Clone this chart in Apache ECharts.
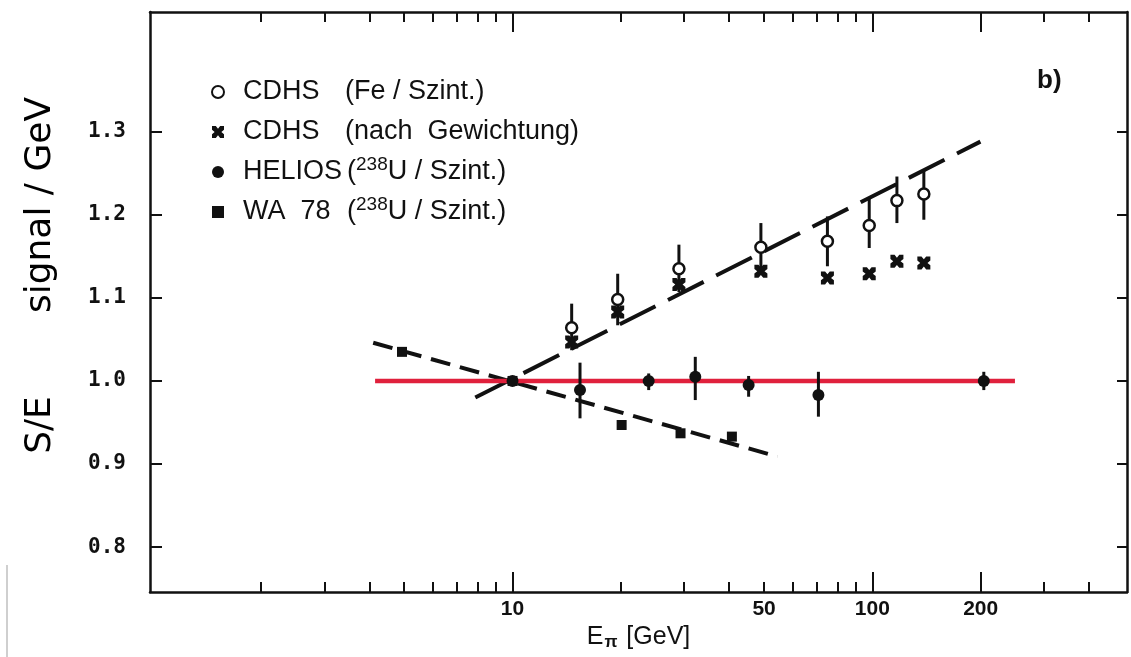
<!DOCTYPE html>
<html><head><meta charset="utf-8">
<script src="https://cdn.jsdelivr.net/npm/echarts@6/dist/echarts.min.js"></script>
<style>html,body{margin:0;padding:0;background:#fff}#c{width:1131px;height:657px}</style>
</head><body><div id="c"></div>
<script>
// ---- tick labels / ticks ----
const xMinorTicks = [2,3,4,5,6,7,8,9,20,30,40,50,60,70,80,90,300,400];
const xMajorTicks = [10,100,200];
const xLabels = [10,50,100,200];
const yTicks = [0.8,0.9,1.0,1.1,1.2,1.3];

// ---- data (E in GeV, S/E) ----
const cdhsFe = [[14.6,1.064],[19.6,1.098],[29,1.135],[49,1.161],[75,1.168],[98,1.187],[117,1.217],[139,1.225]];
const cdhsFeErr = [[14.6,1.037,1.093],[19.6,1.067,1.129],[29,1.107,1.164],[49,1.134,1.190],[75,1.138,1.198],[98,1.160,1.220],[117,1.190,1.246],[139,1.194,1.254]];
const cdhsWeighted = [[14.6,1.047],[19.6,1.083],[29,1.116],[49,1.132],[75,1.124],[98,1.129],[117,1.144],[139,1.142]];
const helios = [[10,1.0],[15.4,0.989],[23.9,1.0],[32.2,1.005],[45.3,0.995],[70.8,0.983],[204,1.0]];
const heliosErr = [[15.4,0.955,1.022],[23.9,0.989,1.009],[32.2,0.977,1.029],[45.3,0.981,1.006],[70.8,0.957,1.011],[204,0.989,1.011]];
const wa78 = [[4.93,1.035],[10,1.0],[20.1,0.947],[29.3,0.937],[40.7,0.933]];
const fitCdhs = [[7.88,0.98],[199.6,1.288]];
const fitWa78 = [[4.1,1.046],[54.5,0.909]];
const reference = [[4.15,1.0],[249,1.0]];

const INK = '#111111';
const crossPath = 'path://M0,0 L3.2,0 L5,2.2 L6.8,0 L10,0 L10,3.2 L7.8,5 L10,6.8 L10,10 L6.8,10 L5,7.8 L3.2,10 L0,10 L0,6.8 L2.2,5 L0,3.2 Z';
const squarePath = 'path://M0,0 L10,0 L10,10 L0,10 Z';

const chart = echarts.init(document.getElementById('c'), null, {renderer:'canvas'});

function errRender(params, api){
  const x = api.value(0);
  const p1 = api.coord([x, api.value(1)]);
  const p2 = api.coord([x, api.value(2)]);
  return {type:'line', shape:{x1:p1[0],y1:p1[1],x2:p2[0],y2:p2[1]}, style:{stroke:INK, lineWidth:3}};
}

const xBase = {type:'log', logBase:10, min:0.983, max:510, gridIndex:0, splitLine:{show:false}, axisPointer:{show:false}};
const tickLine = {color:INK, width:2};

const option = {
  backgroundColor:'#fff',
  animation:false,
  grid:{left:150, right:4, top:12, bottom:65, containLabel:false},
  xAxis:[
    Object.assign({}, xBase, {position:'bottom',
      axisLine:{show:true, onZero:false, lineStyle:{color:INK, width:2.5}},
      axisTick:{show:true, inside:true, length:10, lineStyle:tickLine, customValues:xMinorTicks},
      axisLabel:{show:true, customValues:xLabels, margin:7, color:INK, fontFamily:'Liberation Sans Narrow, Liberation Sans', fontWeight:'bold', fontSize:21, formatter:v=>String(Math.round(v))},
      name:'E{sub|π} [GeV]', nameLocation:'middle', nameGap:28,
      nameTextStyle:{color:INK, fontFamily:'Liberation Sans', fontSize:25, verticalAlign:'top',
        rich:{sub:{fontSize:17, fontFamily:'Liberation Sans', fontWeight:'bold', verticalAlign:'bottom', color:INK, padding:[10,2,0,1]}}}
    }),
    Object.assign({}, xBase, {position:'bottom',
      axisLine:{show:false},
      axisTick:{show:true, inside:true, length:20, lineStyle:tickLine, customValues:xMajorTicks},
      axisLabel:{show:false}
    }),
    Object.assign({}, xBase, {position:'top',
      axisLine:{show:true, onZero:false, lineStyle:{color:INK, width:2.5}},
      axisTick:{show:true, inside:true, length:10, lineStyle:tickLine, customValues:xMinorTicks},
      axisLabel:{show:false}
    }),
    Object.assign({}, xBase, {position:'top',
      axisLine:{show:false},
      axisTick:{show:true, inside:true, length:20, lineStyle:tickLine, customValues:xMajorTicks},
      axisLabel:{show:false}
    })
  ],
  yAxis:[
    {type:'value', min:0.746, max:1.444, position:'left', splitLine:{show:false},
      axisLine:{show:true, onZero:false, lineStyle:{color:INK, width:2.5}},
      axisTick:{show:true, inside:true, length:12, lineStyle:tickLine, customValues:yTicks},
      axisLabel:{show:true, customValues:yTicks, margin:24, color:INK, fontFamily:'DejaVu Sans Mono', fontWeight:'bold', fontSize:21, formatter:v=>v.toFixed(1)}
    },
    {type:'value', min:0.746, max:1.444, position:'right', splitLine:{show:false},
      axisLine:{show:true, onZero:false, lineStyle:{color:INK, width:2.5}},
      axisTick:{show:true, inside:true, length:10, lineStyle:tickLine, customValues:yTicks},
      axisLabel:{show:false}
    }
  ],
  legend:{
    orient:'vertical', left:206, top:70, itemWidth:40, itemHeight:12, itemGap:6,
    selectedMode:false,
    data:['CDHS (Fe/Szint.)','CDHS (nach Gewichtung)','HELIOS (238U/Szint.)','WA 78 (238U/Szint.)'],
    textStyle:{color:INK, fontFamily:'Liberation Sans', fontSize:27, lineHeight:34,
      rich:{
        a:{width:102, fontSize:27, lineHeight:34, fontFamily:'Liberation Sans', color:INK},
        c:{width:104, fontSize:27, lineHeight:34, fontFamily:'Liberation Sans', color:INK},
        b:{fontSize:27, lineHeight:34, fontFamily:'Liberation Sans', color:INK},
        s:{fontSize:19, lineHeight:20, verticalAlign:'top', fontFamily:'Liberation Sans', color:INK}
      }},
    formatter:function(name){
      if(name==='CDHS (Fe/Szint.)') return '{a|CDHS}{b|(Fe / Szint.)}';
      if(name==='CDHS (nach Gewichtung)') return '{a|CDHS}{b|(nach  Gewichtung)}';
      if(name==='HELIOS (238U/Szint.)') return '{c|HELIOS}{b|(}{s|238}{b|U / Szint.)}';
      return '{c|WA  78}{b|(}{s|238}{b|U / Szint.)}';
    }
  },
  graphic:[
    {type:'text', left:1037, top:68, style:{text:'b)', fontFamily:'Liberation Sans', fontWeight:'bold', fontSize:26, fill:INK}},
    {type:'text', x:41, y:205, rotation:Math.PI/2, style:{text:'signal / GeV', fontFamily:'DejaVu Sans', fontSize:36, fill:'#000', align:'center', verticalAlign:'middle'}},
    {type:'text', x:41, y:425, rotation:Math.PI/2, style:{text:'S/E', fontFamily:'DejaVu Sans', fontSize:36, fill:'#000', align:'center', verticalAlign:'middle'}},
    {type:'line', shape:{x1:7, y1:565, x2:7, y2:657}, style:{stroke:'#cfcfcf', lineWidth:2}}
  ],
  series:[
    {name:'fitCdhs', type:'line', data:fitCdhs, symbol:'none', z:2, silent:true,
      lineStyle:{color:INK, width:4, type:[40,14]}},
    {name:'fitWa78', type:'line', data:fitWa78, symbol:'none', z:2, silent:true,
      lineStyle:{color:INK, width:4, type:[20,10]}},
    {name:'reference', type:'line', data:reference, symbol:'none', z:3, silent:true,
      lineStyle:{color:'#e0203c', width:4.5}},
    {name:'cdhsErr', type:'custom', renderItem:errRender, data:cdhsFeErr, encode:{x:0, y:[1,2]}, z:4, silent:true},
    {name:'heliosErr', type:'custom', renderItem:errRender, data:heliosErr, encode:{x:0, y:[1,2]}, z:4, silent:true},
    {name:'CDHS (nach Gewichtung)', type:'scatter', data:cdhsWeighted, symbol:crossPath, symbolSize:13, symbolKeepAspect:true, z:5,
      itemStyle:{color:INK, opacity:1}},
    {name:'CDHS (Fe/Szint.)', type:'scatter', data:cdhsFe, symbol:'circle', symbolSize:11, z:6,
      itemStyle:{color:'#fff', borderColor:INK, borderWidth:2.5, opacity:1}},
    {name:'HELIOS (238U/Szint.)', type:'scatter', data:helios, symbol:'circle', symbolSize:12, z:5,
      itemStyle:{color:INK, opacity:1}},
    {name:'WA 78 (238U/Szint.)', type:'scatter', data:wa78, symbol:squarePath, symbolSize:10, symbolKeepAspect:true, z:5,
      itemStyle:{color:INK, opacity:1}}
  ]
};
chart.setOption(option);
</script>
</body></html>
